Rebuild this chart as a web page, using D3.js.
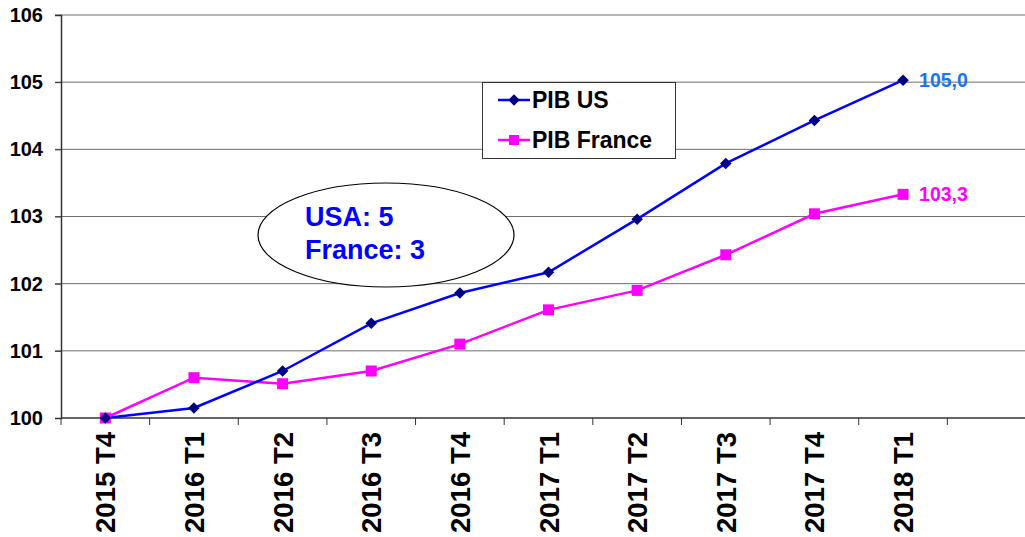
<!DOCTYPE html>
<html><head><meta charset="utf-8">
<script src="https://cdn.jsdelivr.net/npm/d3@7"></script>
<style>body{margin:0;background:#fff}svg{display:block}text{font-family:"Liberation Sans",Arial,sans-serif;font-weight:bold}</style>
</head><body><svg id="c" width="1025" height="537"></svg>
<script>
const categories = ["2015 T4","2016 T1","2016 T2","2016 T3","2016 T4","2017 T1","2017 T2","2017 T3","2017 T4","2018 T1",""];
const pibUS = [100,100.15,100.70,101.41,101.86,102.17,102.96,103.79,104.43,105.03];
const pibFrance = [100,100.60,100.51,100.70,101.10,101.61,101.90,102.43,103.04,103.33];
const yTicks = [100,101,102,103,104,105,106];
const seriesNames = ["PIB US","PIB France"];
const endLabels = ["105,0","103,3"];
const noteLines = ["USA: 5","France: 3"];

(function(){
const svg = d3.select("#c");
const pl = 61, pr = 1036, pt = 15, pb = 418;
const x = d3.scaleBand().domain(categories.map((d,i)=>i)).range([pl,pr]);
const y = d3.scaleLinear().domain([100,106]).range([pb,pt]);
const cx = i => x(i) + x.bandwidth()/2;

// gridlines
svg.append("g").selectAll("line").data(yTicks.slice(1)).join("line")
  .attr("x1", pl-6).attr("x2", 1025).attr("y1", d=>y(d)).attr("y2", d=>y(d))
  .attr("stroke", "#6e6e6e").attr("stroke-width", 1);

// y axis
const ya = svg.append("g").attr("transform", `translate(${pl},0)`)
  .call(d3.axisLeft(y).tickValues(yTicks).tickSize(6).tickFormat(d3.format("d")));
ya.select(".domain").attr("stroke","#333").attr("stroke-width",1.5);
ya.selectAll(".tick line").attr("stroke","#333");
ya.selectAll(".tick text").attr("x",-18).attr("font-size",20).attr("fill","#000")
  .style("font-family","'Liberation Sans',Arial,sans-serif").style("font-weight","bold");

// x axis
const xa = svg.append("g").attr("transform", `translate(0,${pb})`);
xa.append("line").attr("x1",pl).attr("x2",1025).attr("y1",0).attr("y2",0).attr("stroke","#333").attr("stroke-width",1.5);
const bounds = d3.range(categories.length+1).map(i => i<categories.length ? x(i) : pr);
xa.selectAll("line.t").data(bounds.filter(b=>b<=1025)).join("line").attr("class","t")
  .attr("x1",d=>d).attr("x2",d=>d).attr("y1",0).attr("y2",7).attr("stroke","#333");
xa.selectAll("text").data(categories).join("text")
  .attr("transform",(d,i)=>`translate(${cx(i)+10},14) rotate(-90)`)
  .attr("text-anchor","end").attr("font-size",27.5).attr("fill","#000").text(d=>d);

// lines
const line = d3.line().x((d,i)=>cx(i)).y(d=>y(d));
svg.append("path").datum(pibFrance).attr("d",line).attr("fill","none").attr("stroke","#ff00ff").attr("stroke-width",2.5);
svg.append("path").datum(pibUS).attr("d",line).attr("fill","none").attr("stroke","#0000ff").attr("stroke-width",2.5);

svg.append("g").selectAll("rect").data(pibFrance).join("rect")
  .attr("x",(d,i)=>cx(i)-5.5).attr("y",d=>y(d)-5.5).attr("width",11).attr("height",11).attr("fill","#ff00ff");
const diamond = d3.symbol().type(d3.symbolDiamond2).size(85);
svg.append("g").selectAll("path").data(pibUS).join("path")
  .attr("d",diamond).attr("transform",(d,i)=>`translate(${cx(i)},${y(d)})`).attr("fill","#000080");

// end labels
svg.append("text").attr("x",cx(9)+16).attr("y",y(pibUS[9])+7).attr("font-size",19.5).attr("fill","#1a75f0").text(endLabels[0]);
svg.append("text").attr("x",cx(9)+16).attr("y",y(pibFrance[9])+7).attr("font-size",19.5).attr("fill","#ff00ff").text(endLabels[1]);

// legend
const lg = svg.append("g");
lg.append("rect").attr("x",482.5).attr("y",82.5).attr("width",193).attr("height",76).attr("fill","#fff").attr("stroke","#333").attr("stroke-width",1);
[["#0000ff","#000080"],["#ff00ff","#ff00ff"]].forEach((c,k)=>{
  const yy = 100 + k*40;
  lg.append("line").attr("x1",498).attr("x2",530).attr("y1",yy).attr("y2",yy).attr("stroke",c[0]).attr("stroke-width",2.5);
  if(k===0) lg.append("path").attr("d",diamond).attr("transform",`translate(514,${yy})`).attr("fill",c[1]);
  else lg.append("rect").attr("x",509).attr("y",yy-5).attr("width",10).attr("height",10).attr("fill",c[1]);
  lg.append("text").attr("x",532).attr("y",yy+8).attr("font-size",23).attr("fill","#000").text(seriesNames[k]);
});

// ellipse note
svg.append("ellipse").attr("cx",386).attr("cy",235).attr("rx",128).attr("ry",52).attr("fill","#fff").attr("stroke","#000").attr("stroke-width",1.2);
noteLines.forEach((t,k)=>{
  svg.append("text").attr("x",305).attr("y",226+k*33).attr("font-size",27).attr("fill","#0000ff").text(t);
});
})();
</script></body></html>
